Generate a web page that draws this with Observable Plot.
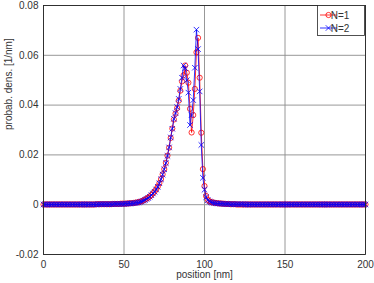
<!DOCTYPE html>
<html><head><meta charset="utf-8">
<script src="https://cdn.jsdelivr.net/npm/d3@7"></script>
<script src="https://cdn.jsdelivr.net/npm/@observablehq/plot@0.6"></script>
<style>
body{margin:0;background:#fff}
#chart{width:374px;height:283px}
</style>
</head><body><div id="chart"></div>
<script>
// position grid (nm), sampled every 1 nm from 0 to 200
const positions = d3.range(0, 201, 1);

// probability density [1/nm], N=1
const densN1 = [
0.0001,0.0001,0.0001,0.0001,0.0001,0.0001,0.0001,0.0001,0.0001,0.0001, // 0
0.0001,0.0001,0.0001,0.0001,0.0001,0.0001,0.0001,0.0001,0.0001,0.0001, // 10
0.0001,0.0001,0.0001,0.0001,0.0001,0.0001,0.0001,0.0001,0.0001,0.0001, // 20
0.0001,0.0001,0.0001,0.0002,0.0002,0.0002,0.0002,0.0002,0.0002,0.0002, // 30
0.0002,0.0002,0.0002,0.0003,0.0003,0.0003,0.0003,0.0003,0.0004,0.0004, // 40
0.0004,0.0004,0.0005,0.0005,0.0006,0.0006,0.0007,0.0008,0.0009,0.0010, // 50
0.0012,0.0014,0.0017,0.0020,0.0024,0.0028,0.0033,0.0039,0.0046,0.0053, // 60
0.0062,0.0073,0.0087,0.0103,0.0122,0.0143,0.0168,0.0197,0.0229,0.0268, // 70
0.0306,0.0342,0.0366,0.0388,0.0418,0.0458,0.0495,0.0520,0.0559,0.0530, // 80
0.0490,0.0385,0.0290,0.0360,0.0465,0.0612,0.0670,0.0510,0.0289,0.0143, // 90
0.0075,0.0035,0.0020,0.0014,0.0011,0.0009,0.0008,0.0007,0.0006,0.0005, // 100
0.0005,0.0004,0.0004,0.0003,0.0003,0.0003,0.0002,0.0002,0.0002,0.0002, // 110
0.0001,0.0001,0.0001,0.0001,0.0001,0.0001,0.0001,0.0001,0.0001,0.0001, // 120
0.0001,0.0001,0.0001,0.0001,0.0001,0.0001,0.0001,0.0001,0.0001,0.0001, // 130
0.0001,0.0001,0.0001,0.0001,0.0001,0.0001,0.0001,0.0001,0.0001,0.0001, // 140
0.0001,0.0001,0.0001,0.0001,0.0001,0.0001,0.0001,0.0001,0.0001,0.0001, // 150
0.0001,0.0001,0.0001,0.0001,0.0001,0.0001,0.0001,0.0001,0.0001,0.0001, // 160
0.0001,0.0001,0.0001,0.0001,0.0001,0.0001,0.0001,0.0001,0.0001,0.0001, // 170
0.0001,0.0001,0.0001,0.0001,0.0001,0.0001,0.0001,0.0001,0.0001,0.0001, // 180
0.0001,0.0001,0.0001,0.0001,0.0001,0.0001,0.0001,0.0001,0.0001,0.0001, // 190
0.0001 // 200
];

// probability density [1/nm], N=2
const densN2 = [
0.0001,0.0001,0.0001,0.0001,0.0001,0.0001,0.0001,0.0001,0.0001,0.0001, // 0
0.0001,0.0001,0.0001,0.0001,0.0001,0.0001,0.0001,0.0001,0.0001,0.0001, // 10
0.0001,0.0001,0.0001,0.0001,0.0001,0.0001,0.0001,0.0001,0.0001,0.0001, // 20
0.0001,0.0001,0.0001,0.0001,0.0002,0.0002,0.0002,0.0002,0.0002,0.0002, // 30
0.0002,0.0002,0.0002,0.0002,0.0003,0.0003,0.0003,0.0003,0.0003,0.0003, // 40
0.0003,0.0004,0.0004,0.0005,0.0005,0.0006,0.0006,0.0007,0.0008,0.0009, // 50
0.0011,0.0013,0.0016,0.0019,0.0023,0.0027,0.0032,0.0038,0.0045,0.0052, // 60
0.0061,0.0072,0.0086,0.0102,0.0121,0.0142,0.0167,0.0196,0.0230,0.0270, // 70
0.0305,0.0345,0.0368,0.0392,0.0425,0.0465,0.0510,0.0559,0.0548,0.0500, // 80
0.0450,0.0320,0.0360,0.0420,0.0550,0.0703,0.0625,0.0455,0.0240,0.0108, // 90
0.0060,0.0030,0.0018,0.0013,0.0010,0.0008,0.0007,0.0006,0.0005,0.0005, // 100
0.0004,0.0004,0.0003,0.0003,0.0003,0.0003,0.0002,0.0002,0.0002,0.0002, // 110
0.0002,0.0002,0.0002,0.0002,0.0002,0.0001,0.0001,0.0001,0.0001,0.0001, // 120
0.0001,0.0001,0.0001,0.0001,0.0001,0.0001,0.0001,0.0001,0.0001,0.0001, // 130
0.0001,0.0001,0.0001,0.0001,0.0001,0.0001,0.0001,0.0001,0.0001,0.0001, // 140
0.0001,0.0001,0.0001,0.0001,0.0001,0.0001,0.0001,0.0001,0.0001,0.0001, // 150
0.0001,0.0001,0.0001,0.0001,0.0001,0.0001,0.0001,0.0001,0.0001,0.0001, // 160
0.0001,0.0001,0.0001,0.0001,0.0001,0.0001,0.0001,0.0001,0.0001,0.0001, // 170
0.0001,0.0001,0.0001,0.0001,0.0001,0.0001,0.0001,0.0001,0.0001,0.0001, // 180
0.0001,0.0001,0.0001,0.0001,0.0001,0.0001,0.0001,0.0001,0.0001,0.0001, // 190
0.0001 // 200
];

const xTicks = [0, 50, 100, 150, 200];
const yTicks = [-0.02, 0, 0.02, 0.04, 0.06, 0.08];
const seriesNames = ["N=1", "N=2"];
const xLabel = "position [nm]";
const yLabel = "probab. dens. [1/nm]";

const red = "#ff0000", blue = "#0000ff";
const textColor = "#333333";
const d1 = positions.map((p, i) => ({x: p, y: densN1[i]}));
const d2 = positions.map((p, i) => ({x: p, y: densN2[i]}));

const fmtY = v => v === 0 ? "0" : String(v);

const chart = Plot.plot({
  width: 374, height: 283,
  marginLeft: 43, marginRight: 9, marginTop: 5, marginBottom: 29,
  style: {fontFamily: "'Liberation Sans', Arial, sans-serif", fontSize: "10px", background: "#fff", color: textColor},
  x: {domain: [0, 200]},
  y: {domain: [-0.02, 0.08]},
  marks: [
    Plot.gridX(xTicks, {stroke: "#8c8c8c", strokeOpacity: 1, strokeWidth: 0.9}),
    Plot.gridY(yTicks, {stroke: "#8c8c8c", strokeOpacity: 1, strokeWidth: 0.9}),
    Plot.axisX(xTicks, {tickSize: 0, tickPadding: 6, label: null, fill: textColor}),
    Plot.axisY(yTicks, {tickSize: 0, tickPadding: 5, label: null, tickFormat: fmtY, fill: textColor}),
    Plot.text([xLabel], {frameAnchor: "bottom", dy: 23, fill: textColor}),
    Plot.text([yLabel], {frameAnchor: "left", dx: -35, rotate: -90, fill: textColor}),
    Plot.line(d1, {x: "x", y: "y", stroke: red, strokeWidth: 0.8}),
    Plot.dot(d1, {x: "x", y: "y", r: 2.6, stroke: red, fill: "none", strokeWidth: 0.8}),
    Plot.line(d2, {x: "x", y: "y", stroke: blue, strokeWidth: 0.8}),
    Plot.dot(d2, {x: "x", y: "y", symbol: "times", r: 2.6, stroke: blue, strokeWidth: 0.8}),
    Plot.frame({stroke: "#262626", strokeWidth: 0.9})
  ]
});
document.getElementById("chart").appendChild(chart);

// legend (MATLAB style box, top right)
const svg = d3.select(chart);
const lg = svg.append("g").attr("font-family", "'Liberation Sans', Arial, sans-serif").attr("font-size", 10);
lg.append("rect").attr("x", 317.5).attr("y", 5.5).attr("width", 47).attr("height", 30)
  .attr("fill", "#fff").attr("stroke", "#262626").attr("stroke-width", 0.8);
const entries = [
  {name: seriesNames[0], color: red, y: 15, sym: "circle"},
  {name: seriesNames[1], color: blue, y: 28, sym: "times"}
];
for (const e of entries) {
  lg.append("line").attr("x1", 320).attr("x2", 337).attr("y1", e.y).attr("y2", e.y)
    .attr("stroke", e.color).attr("stroke-width", 0.8);
  if (e.sym === "circle") {
    lg.append("circle").attr("cx", 328.5).attr("cy", e.y).attr("r", 2.6)
      .attr("fill", "none").attr("stroke", e.color).attr("stroke-width", 0.8);
  } else {
    lg.append("path").attr("transform", `translate(328.5,${e.y})`)
      .attr("d", d3.symbol(d3.symbolTimes, Math.PI * 2.6 * 2.6)())
      .attr("fill", "none").attr("stroke", e.color).attr("stroke-width", 0.8);
  }
  lg.append("text").attr("x", 340).attr("y", e.y).attr("dy", "0.35em")
    .attr("fill", textColor).text(e.name);
}
</script>
</body></html>
